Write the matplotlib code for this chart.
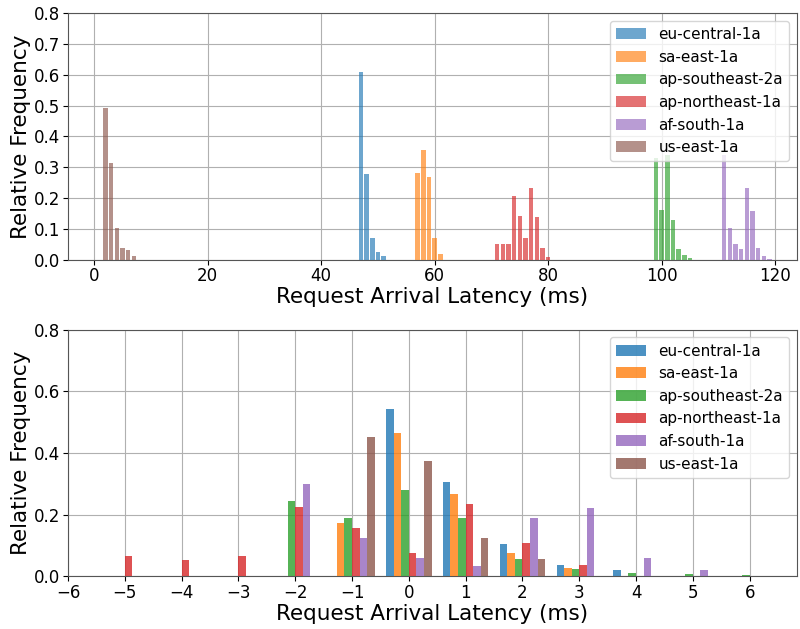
import numpy as np
import matplotlib
matplotlib.use('Agg')
import matplotlib.pyplot as plt

regions = ['eu-central-1a', 'sa-east-1a', 'ap-southeast-2a',
           'ap-northeast-1a', 'af-south-1a', 'us-east-1a']
colors = ['tab:blue', 'tab:orange', 'tab:green', 'tab:red', 'tab:purple', 'tab:brown']

# top panel: absolute arrival latency (ms), 1 ms bins
abs_bins = {
    'eu-central-1a': [47, 48, 49, 50, 51],
    'sa-east-1a': [57, 58, 59, 60, 61],
    'ap-southeast-2a': [99, 100, 101, 102, 103, 104, 105],
    'ap-northeast-1a': [71, 72, 73, 74, 75, 76, 77, 78, 79, 80],
    'af-south-1a': [111, 112, 113, 114, 115, 116, 117, 118, 119],
    'us-east-1a': [2, 3, 4, 5, 6, 7],
}
abs_freq = {
    'eu-central-1a': [0.608, 0.278, 0.071, 0.025, 0.013],
    'sa-east-1a': [0.281, 0.357, 0.268, 0.071, 0.018],
    'ap-southeast-2a': [0.33, 0.161, 0.34, 0.128, 0.035, 0.014, 0.005],
    'ap-northeast-1a': [0.052, 0.049, 0.049, 0.207, 0.142, 0.071, 0.231, 0.138, 0.036, 0.009],
    'af-south-1a': [0.34, 0.103, 0.052, 0.035, 0.231, 0.157, 0.039, 0.011, 0.003],
    'us-east-1a': [0.491, 0.315, 0.103, 0.036, 0.031, 0.013],
}

# bottom panel: latency relative to median (ms), integer bins
rel_bins = [-5, -4, -3, -2, -1, 0, 1, 2, 3, 4, 5, 6]
rel_freq = {
    'eu-central-1a': [0, 0, 0, 0, 0, 0.543, 0.305, 0.103, 0.035, 0.021, 0, 0],
    'sa-east-1a': [0, 0, 0, 0, 0.174, 0.464, 0.266, 0.074, 0.028, 0, 0, 0],
    'ap-southeast-2a': [0, 0, 0, 0.245, 0.189, 0.280, 0.188, 0.055, 0.022, 0.011, 0.006, 0.004],
    'ap-northeast-1a': [0.066, 0.051, 0.064, 0.226, 0.156, 0.075, 0.234, 0.107, 0.035, 0, 0, 0],
    'af-south-1a': [0, 0, 0, 0.298, 0.125, 0.059, 0.032, 0.190, 0.221, 0.059, 0.019, 0],
    'us-east-1a': [0, 0, 0, 0, 0.451, 0.373, 0.125, 0.055, 0, 0, 0, 0],
}

fig, (ax1, ax2) = plt.subplots(2, 1, figsize=(8, 6.29), dpi=100)
fig.subplots_adjust(left=0.085, right=0.996, top=0.979, bottom=0.084, hspace=0.285)

# top: one histogram per region
edges = np.arange(0.5, 121.5, 1)
for r, c in zip(regions, colors):
    ax1.hist(abs_bins[r], bins=edges, weights=abs_freq[r], rwidth=0.8,
             color=c, alpha=0.65, label=r, zorder=3)
ax1.set_xlim(-4.6, 123.8)
ax1.set_ylim(0, 0.8)
ax1.set_yticks(np.arange(0, 0.81, 0.1))

# bottom: grouped histogram
edges2 = np.arange(-5.5, 7.5, 1)
ax2.hist([rel_bins] * len(regions), bins=edges2,
         weights=[rel_freq[r] for r in regions],
         color=colors, alpha=0.8, label=regions, zorder=3)
ax2.set_xlim(-6, 6.83)
ax2.set_ylim(0, 0.8)
ax2.set_xticks(range(-6, 7))
ax2.set_yticks(np.arange(0, 0.81, 0.2))

for ax in (ax1, ax2):
    ax.grid(True, color='#b0b0b0', lw=0.8, zorder=0)
    ax.set_axisbelow(True)
    ax.tick_params(labelsize=12, pad=2)
    ax.set_xlabel('Request Arrival Latency (ms)', fontsize=15.5, labelpad=1.5)
    ax.set_ylabel('Relative Frequency', fontsize=15.5, labelpad=2)
    ax.legend(loc='upper right', fontsize=11, framealpha=0.8)
    for s in ax.spines.values():
        s.set_color('#555555')

fig.savefig('out.png', dpi=100)
